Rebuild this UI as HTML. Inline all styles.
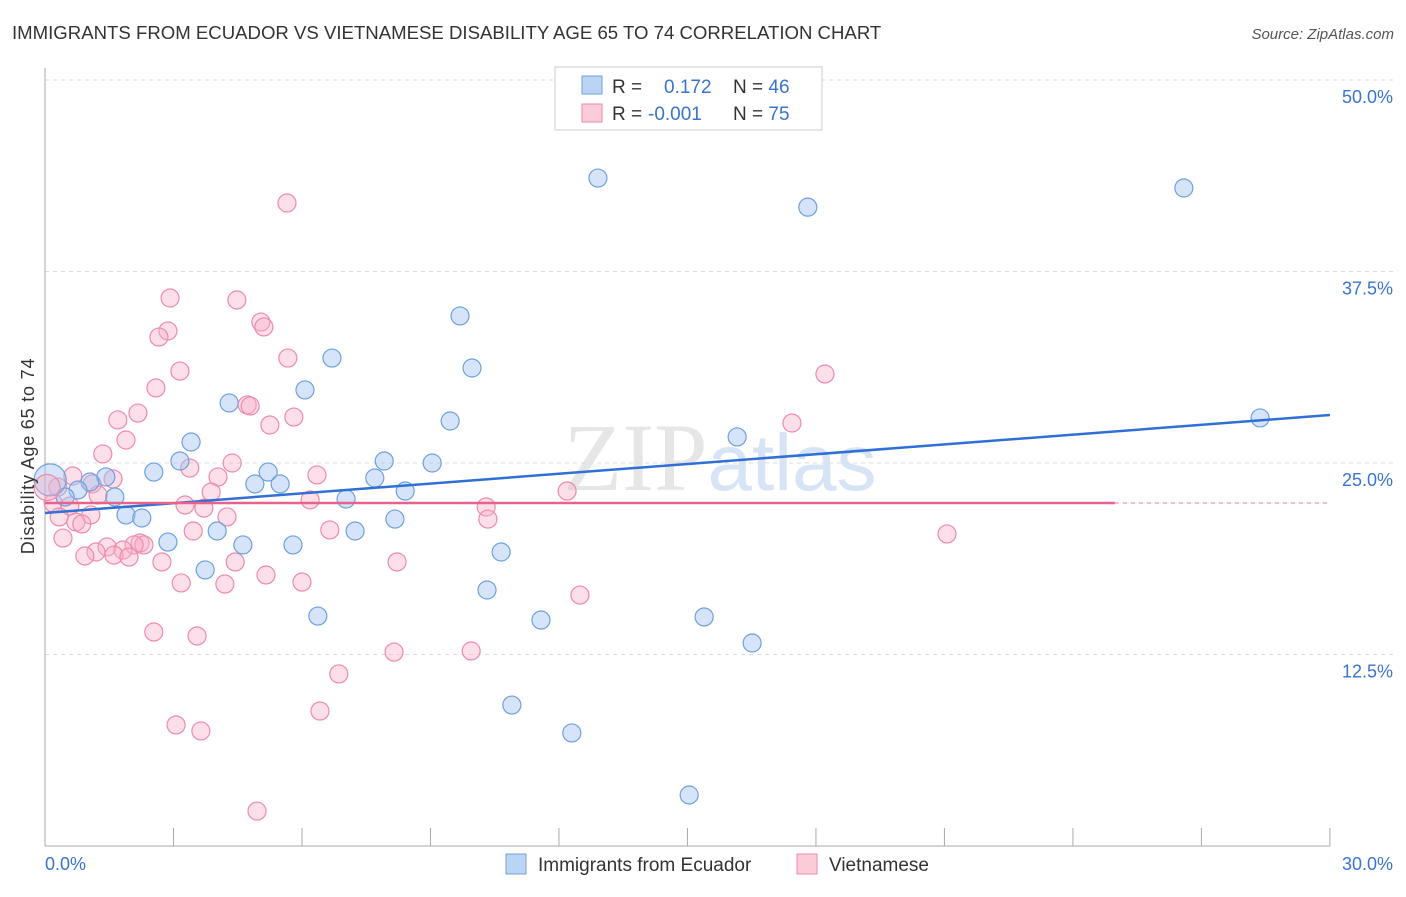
<!DOCTYPE html>
<html><head><meta charset="utf-8"><style>
body{margin:0;background:#fff;font-family:"Liberation Sans",sans-serif;}
</style></head><body>
<svg width="1406" height="892" xmlns="http://www.w3.org/2000/svg" font-family="Liberation Sans, sans-serif">
<text x="12" y="39" font-size="18.6" fill="#333">IMMIGRANTS FROM ECUADOR VS VIETNAMESE DISABILITY AGE 65 TO 74 CORRELATION CHART</text>
<text x="1394" y="39" font-size="15" fill="#555" text-anchor="end" font-style="italic">Source: ZipAtlas.com</text>
<text x="720" y="490" font-size="96" fill="#e6e6e6" text-anchor="middle" font-family="Liberation Serif, serif">ZIP<tspan fill="#d6e4f5" font-family="Liberation Sans, sans-serif" font-size="80">atlas</tspan></text>
<g id="grid"></g>
<g id="axes"></g>
<g id="pts"></g>
<g id="lines"></g>
<text transform="translate(34,456) rotate(-90)" font-size="18" letter-spacing="0.8" fill="#333" text-anchor="middle">Disability Age 65 to 74</text>
<g>
<rect x="555" y="67" width="267" height="63" fill="#fff" stroke="#ccc"/>
<rect x="582" y="76" width="20" height="18" fill="#bcd4f4" stroke="#6fa0e0"/>
<rect x="582" y="104" width="20" height="18" fill="#fbcbd9" stroke="#f08aa8"/>
<text x="612" y="93" font-size="19" fill="#333">R = <tspan fill="#3a74d0" x="664">0.172</tspan><tspan x="733" fill="#333">N = </tspan><tspan fill="#3a74d0">46</tspan></text>
<text x="612" y="120" font-size="19" fill="#333">R = <tspan fill="#3a74d0" x="648">-0.001</tspan><tspan x="733" fill="#333">N = </tspan><tspan fill="#3a74d0">75</tspan></text>
</g>
<g>
<rect x="506" y="854" width="20" height="20" fill="#bcd4f4" stroke="#6fa0e0"/>
<text x="538" y="871" font-size="19" fill="#333">Immigrants from Ecuador</text>
<rect x="797" y="854" width="20" height="20" fill="#fbcbd9" stroke="#f08aa8"/>
<text x="829" y="871" font-size="19" fill="#333">Vietnamese</text>
</g>
</svg>
<script>
const yTicks=[12.5,25,37.5,50];
const yTickLabels=["12.5%","25.0%","37.5%","50.0%"];
const xTicks=[0,3,6,9,12,15,18,21,24,27,30];
const blueX=[12.91,17.81,26.59,9.69,6.70,9.97,6.07,4.30,9.46,28.37,16.16,3.41,3.15,7.92,9.04,2.54,5.21,1.42,7.70,1.05,4.90,5.49,0.77,8.41,1.63,7.03,0.47,1.89,2.26,8.17,4.02,7.24,2.87,4.62,5.79,10.65,3.74,10.32,6.37,11.58,15.39,16.51,10.90,12.30,15.04];
const blueY=[43.6,41.7,42.95,34.6,31.85,31.2,29.77,28.92,27.74,27.94,26.7,26.37,25.13,25.13,25.0,24.41,24.41,24.09,24.02,23.76,23.63,23.63,23.24,23.17,22.78,22.65,22.78,21.61,21.41,21.34,20.56,20.56,19.84,19.65,19.65,19.19,18.02,16.71,15.01,14.75,14.95,13.25,9.2,7.38,3.33];
const pinkX=[5.65,2.92,4.48,5.04,5.11,2.87,2.66,5.67,3.15,18.21,2.59,4.72,4.79,2.17,1.70,5.81,5.25,17.44,1.89,1.35,4.37,3.38,6.35,0.65,4.04,1.59,1.10,1.24,3.88,12.19,0.30,0.19,3.27,3.71,6.19,10.30,0.58,1.07,0.33,4.25,10.34,0.72,0.86,3.46,6.65,21.06,0.42,2.22,2.31,2.08,1.45,1.82,1.19,1.61,0.93,1.96,2.73,4.44,8.22,5.16,6.00,3.18,4.20,12.49,2.54,3.55,8.15,9.95,6.86,6.42,3.06,3.64,4.95];
const pinkY=[41.97,35.77,35.64,34.2,33.88,33.62,33.22,31.85,31.0,30.81,29.9,28.79,28.72,28.26,27.81,28.0,27.48,27.61,26.5,25.59,25.0,24.67,24.22,24.15,24.09,23.96,23.63,22.91,23.1,23.17,23.43,22.39,22.26,22.06,22.59,22.13,22.19,21.61,21.48,21.48,21.34,21.15,21.02,20.56,20.63,20.37,20.1,19.78,19.65,19.65,19.52,19.32,19.19,18.99,18.93,18.86,18.54,18.54,18.54,17.69,17.23,17.17,17.1,16.38,13.97,13.71,12.66,12.73,11.23,8.81,7.9,7.51,2.28];
const blueBig=[0.12,23.9];
const pinkBig=[0.05,23.4];
const blueTrend=[0,21.74,30,28.13];
const pinkTrend=[0,22.39,24.98,22.39];
const NS="http://www.w3.org/2000/svg";
function sx(v){return 45+v*42.83;}
function sy(v){return 846-v*15.32;}
function mk(t,a,p){const e=document.createElementNS(NS,t);for(const k in a)e.setAttribute(k,a[k]);p.appendChild(e);return e;}
const grid=document.getElementById('grid'),axes=document.getElementById('axes'),pts=document.getElementById('pts'),lines=document.getElementById('lines');
yTicks.forEach((v,i)=>{
 const g=mk('line',{x1:45,x2:1394,y1:sy(v),y2:sy(v),stroke:'#ddd','stroke-dasharray':'4,4'},grid);
 
 
 const t=mk('text',{x:1393,y:sy(v)+23,'font-size':18,fill:'#3a74d0','text-anchor':'end'},axes);
 t.textContent=yTickLabels[i];
 
 
});
const ya=mk('line',{x1:45,x2:45,y1:68,y2:846,stroke:'#aaa'},axes);


const xa=mk('line',{x1:45,x2:1330,y1:846,y2:846,stroke:'#aaa'},axes);


xTicks.forEach(v=>{
 const l=mk('line',{x1:sx(v),x2:sx(v),y1:828,y2:846,stroke:'#aaa'},axes);
 
 
});
const xl0=mk('text',{x:45,y:870,'font-size':18,fill:'#3a74d0'},axes);xl0.textContent='0.0%';


const xl1=mk('text',{x:1393,y:870,'font-size':18,fill:'#3a74d0','text-anchor':'end'},axes);xl1.textContent='30.0%';


function dot(x,y,r,blue){
 const c=mk('circle',{cx:sx(x),cy:sy(y),r:r,fill:blue?'rgba(161,196,240,0.45)':'rgba(248,176,200,0.4)',stroke:blue?'#6fa0e0':'#f08aa8','stroke-width':1.2},pts);
 return c;
}
pinkX.forEach((x,i)=>{const c=dot(x,pinkY[i],9,false);
 
 });
blueX.forEach((x,i)=>{const c=dot(x,blueY[i],9,true);
 
 });
const bb=dot(blueBig[0],blueBig[1],16,true);


const pb=dot(pinkBig[0],pinkBig[1],13,false);


const bt=mk('line',{x1:sx(blueTrend[0]),y1:sy(blueTrend[1]),x2:sx(blueTrend[2]),y2:sy(blueTrend[3]),stroke:'#2f6fd6','stroke-width':2.5},lines);


const pt=mk('line',{x1:sx(pinkTrend[0]),y1:sy(pinkTrend[1]),x2:sx(pinkTrend[2]),y2:sy(pinkTrend[3]),stroke:'#e8638c','stroke-width':2.5},lines);


const pd=mk('line',{x1:sx(pinkTrend[2]),y1:sy(pinkTrend[3]),x2:sx(30),y2:sy(pinkTrend[3]),stroke:'#f0a0b8','stroke-width':1.5,'stroke-dasharray':'4,4'},lines);


</script>
</body></html>
